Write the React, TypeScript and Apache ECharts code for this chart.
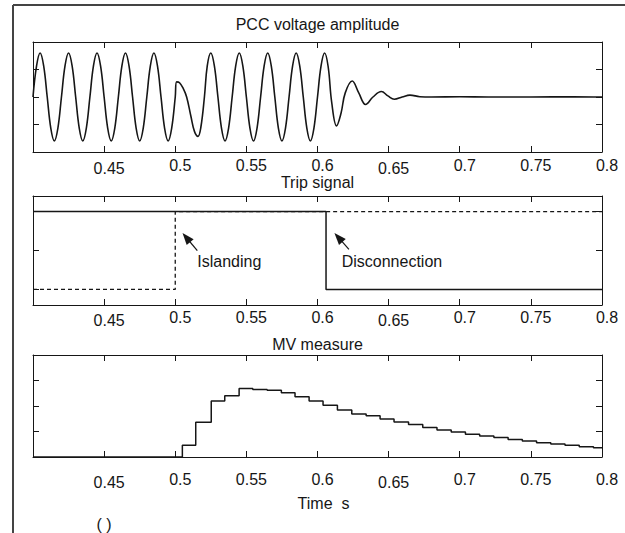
import React, { useEffect, useRef } from "react";
import * as echarts from "echarts";

const FONT = "'Liberation Sans', Arial, Helvetica, sans-serif";
const INK = "#161616";

const panelTitles = ["PCC voltage amplitude", "Trip signal", "MV measure"];
const xTickLabels = ["0.45", "0.5", "0.55", "0.6", "0.65", "0.7", "0.75", "0.8"];
const loweredLabels = ["0.45", "0.65"];
const xAxisTitle = "Time  s";
const captionText = "( )";
const notes = ["Islanding", "Disconnection"];

// PCC voltage amplitude
const pccTime = [
  0.4, 0.4025, 0.405, 0.4075, 0.41, 0.4125, 0.415, 0.4175,
  0.42, 0.4225, 0.425, 0.4275, 0.43, 0.4325, 0.435, 0.4375,
  0.44, 0.4425, 0.445, 0.4475, 0.45, 0.4525, 0.455, 0.4575,
  0.46, 0.4625, 0.465, 0.4675, 0.47, 0.4725, 0.475, 0.4775,
  0.48, 0.4825, 0.485, 0.4875, 0.49, 0.4925, 0.495, 0.4975,
  0.5, 0.501, 0.503, 0.5055, 0.508, 0.511, 0.5135, 0.516, 0.518,
  0.5205, 0.5225, 0.525, 0.5275, 0.53, 0.5325, 0.535, 0.5375,
  0.54, 0.5425, 0.545, 0.5475, 0.55, 0.5525, 0.555, 0.5575,
  0.56, 0.5625, 0.565, 0.5675, 0.57, 0.5725, 0.575, 0.5775,
  0.58, 0.5825, 0.585, 0.5875, 0.59, 0.5925, 0.595, 0.5975,
  0.6, 0.6025, 0.605, 0.6075, 0.61, 0.6134, 0.6165, 0.6195,
  0.6244, 0.629, 0.6338, 0.639, 0.6449, 0.6495, 0.654, 0.6595,
  0.665, 0.672, 0.68, 0.7, 0.72, 0.75, 0.78, 0.8,
];
const pccValue = [
  0, 1.13, 1.6, 1.13, 0, -1.13, -1.6, -1.13,
  0, 1.13, 1.6, 1.13, 0, -1.13, -1.6, -1.13,
  0, 1.13, 1.6, 1.13, 0, -1.13, -1.6, -1.13,
  0, 1.13, 1.6, 1.13, 0, -1.13, -1.6, -1.13,
  0, 1.13, 1.6, 1.13, 0, -1.13, -1.6, -1.13,
  0.0, 0.55, 0.52, 0.32, 0.0, -0.7, -1.25, -1.43, -1.1,
  0.0, 1.13, 1.6, 1.13, 0, -1.13, -1.6, -1.13,
  0, 1.13, 1.6, 1.13, 0, -1.13, -1.6, -1.13,
  0, 1.13, 1.6, 1.13, 0, -1.13, -1.6, -1.13,
  0, 1.13, 1.6, 1.13, 0, -1.13, -1.6, -1.13,
  0, 1.13, 1.6, 1.1, -0.2, -1.05, -0.6, 0.15,
  0.58, 0.15, -0.27, 0.0, 0.2, 0.04, -0.08, 0.0,
  0.07, 0.01, 0.0, 0.01, 0.0, 0.0, 0.01, 0.0,
];

// Trip signals
const tripDashedTime = [0.4, 0.5, 0.5, 0.8];
const tripDashedValue = [0, 0, 1, 1];
const tripSolidTime = [0.4, 0.606, 0.606, 0.8];
const tripSolidValue = [1, 1, 0, 0];

// MV measure (sample-and-hold steps)
const mvTime = [
  0.4, 0.505, 0.5144, 0.5253, 0.5348, 0.5449, 0.5545, 0.5646, 0.5746, 0.5842,
  0.5941, 0.6039, 0.614, 0.6241, 0.6342, 0.644, 0.6538, 0.664, 0.674, 0.684,
  0.694, 0.704, 0.714, 0.724, 0.734, 0.744, 0.754, 0.764, 0.774, 0.784, 0.794, 0.8,
];
const mvValue = [
  0, 0.46, 1.36, 2.2, 2.4, 2.69, 2.65, 2.62, 2.52, 2.36,
  2.2, 2.03, 1.84, 1.69, 1.62, 1.49, 1.37, 1.27, 1.16, 1.06,
  0.98, 0.89, 0.82, 0.76, 0.69, 0.63, 0.56, 0.51, 0.46, 0.4, 0.36, 0.36,
];

const zip = (a: number[], b: number[]) => a.map((t, i) => [t, b[i]]);

const textBase = { fontFamily: FONT, fontSize: 16, color: INK };
const axisLineStyle = { color: INK, width: 1 };

function xLabelFormatter(v: number) {
  const s = String(+v.toFixed(2));
  if (!xTickLabels.includes(s)) return "";
  return loweredLabels.includes(s) ? `{lo|${s}}` : `{hi|${s}}`;
}

const grids = [
  { left: 33, top: 42, width: 569, height: 110 },
  { left: 33, top: 196, width: 569, height: 109 },
  { left: 33, top: 355, width: 569, height: 102 },
];
const labelMargins = [5, 4, 14];
const titleGaps = [10, 6, 3];
const yRanges = [
  { min: -2, max: 2, interval: 1 },
  { min: -0.2, max: 1.2, interval: 0.1, ticks: [0, 0.5, 1] },
  { min: 0, max: 4, interval: 1 },
];

export default function App() {
  const ref = useRef<HTMLDivElement>(null);
  useEffect(() => {
    if (!ref.current) return;
    const chart = echarts.init(ref.current, undefined, { renderer: "svg" });

    const xAxis: any[] = [];
    const yAxis: any[] = [];
    grids.forEach((_, i) => {
      xAxis.push({
        gridIndex: i,
        type: "value",
        min: 0.4,
        max: 0.8,
        interval: 0.05,
        position: "bottom",
        axisLine: { show: true, onZero: false, lineStyle: axisLineStyle },
        axisTick: { show: true, inside: true, length: 6, lineStyle: axisLineStyle },
        splitLine: { show: false },
        axisLabel: {
          show: true,
          margin: labelMargins[i],
          padding: [0, 0, 0, 10],
          formatter: xLabelFormatter,
          rich: {
            lo: { ...textBase, padding: [3, 0, 0, 0] },
            hi: { ...textBase },
          },
          ...textBase,
        },
        ...(i === 2
          ? {
              name: xAxisTitle,
              nameLocation: "middle",
              nameGap: 38,
              nameTextStyle: { ...textBase, padding: [0, 0, 0, 12] },
            }
          : {}),
      });
      xAxis.push({
        gridIndex: i,
        type: "value",
        min: 0.4,
        max: 0.8,
        interval: 0.05,
        position: "top",
        axisLine: { show: true, onZero: false, lineStyle: axisLineStyle },
        axisTick: { show: true, inside: true, length: 6, lineStyle: axisLineStyle },
        splitLine: { show: false },
        axisLabel: { show: false },
        name: panelTitles[i],
        nameLocation: "middle",
        nameGap: titleGaps[i],
        nameTextStyle: { ...textBase },
      });
      const yr = yRanges[i];
      ["left", "right"].forEach((pos) => {
        yAxis.push({
          gridIndex: i,
          type: "value",
          min: yr.min,
          max: yr.max,
          interval: yr.interval,
          position: pos,
          axisLine: { show: true, onZero: false, lineStyle: axisLineStyle },
          axisTick: {
            show: true,
            inside: true,
            length: 6,
            lineStyle: axisLineStyle,
            ...(yr.ticks ? { customValues: yr.ticks } : {}),
          },
          splitLine: { show: false },
          axisLabel: { show: false },
        });
      });
    });

    const option: any = {
      animation: false,
      backgroundColor: "#ffffff",
      grid: grids,
      xAxis,
      yAxis,
      graphic: [
        { type: "line", shape: { x1: 13, y1: 5, x2: 625, y2: 5 }, style: { stroke: "#444", lineWidth: 2 } },
        { type: "line", shape: { x1: 13, y1: 5, x2: 13, y2: 533 }, style: { stroke: "#444", lineWidth: 2 } },
        {
          type: "text",
          x: 104,
          y: 524,
          style: { text: captionText, font: `16px ${FONT}`, fill: INK, textAlign: "center", textVerticalAlign: "middle" },
        },
      ],
      series: [
        {
          type: "line",
          xAxisIndex: 0,
          yAxisIndex: 0,
          data: zip(pccTime, pccValue),
          showSymbol: false,
          smooth: 0.4,
          lineStyle: { color: INK, width: 1.6 },
          silent: true,
        },
        {
          type: "line",
          xAxisIndex: 2,
          yAxisIndex: 2,
          data: zip(tripDashedTime, tripDashedValue),
          showSymbol: false,
          lineStyle: { color: INK, width: 1.3, type: [4, 3] },
          silent: true,
        },
        {
          type: "line",
          xAxisIndex: 2,
          yAxisIndex: 2,
          data: zip(tripSolidTime, tripSolidValue),
          showSymbol: false,
          lineStyle: { color: INK, width: 1.5 },
          silent: true,
          markLine: {
            silent: true,
            symbol: ["triangle", "none"],
            symbolSize: [9, 12],
            lineStyle: { color: INK, width: 1.2, type: "solid" },
            itemStyle: { color: INK },
            label: { show: false },
            data: [
              [{ coord: [0.5078, 0.667] }, { coord: [0.5155, 0.497] }],
              [{ coord: [0.6147, 0.668] }, { coord: [0.6221, 0.515] }],
            ],
          },
          markPoint: {
            silent: true,
            symbol: "circle",
            symbolSize: 0,
            label: { show: true, position: "right", distance: 0, formatter: "{b}", ...textBase },
            data: [
              { name: notes[0], coord: [0.5155, 0.365] },
              { name: notes[1], coord: [0.617, 0.355] },
            ],
          },
        },
        {
          type: "line",
          xAxisIndex: 4,
          yAxisIndex: 4,
          data: zip(mvTime, mvValue),
          step: "end",
          showSymbol: false,
          lineStyle: { color: INK, width: 1.5 },
          silent: true,
        },
      ],
    };
    chart.setOption(option);
    return () => chart.dispose();
  }, []);

  return (
    <div
      ref={ref}
      style={{ position: "absolute", left: 0, top: 0, width: 625, height: 533, background: "#fff" }}
    />
  );
}
